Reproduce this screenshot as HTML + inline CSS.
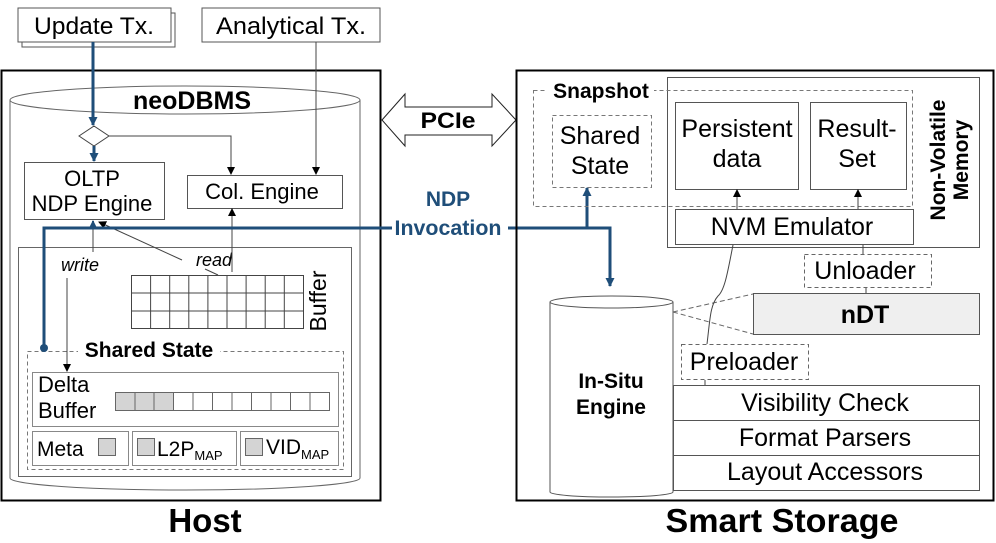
<!DOCTYPE html>
<html><head><meta charset="utf-8"><style>
html,body{margin:0;padding:0;background:#fff}
svg{display:block}
text{font-family:"Liberation Sans",Arial,sans-serif}
</style></head><body>
<svg width="996" height="543" viewBox="0 0 996 543" xmlns="http://www.w3.org/2000/svg">
<defs>
<marker id="a" markerWidth="8" markerHeight="8" refX="7" refY="4" orient="auto" markerUnits="userSpaceOnUse"><path d="M0,0 L8,4 L0,8 z" fill="#000"/></marker>
<marker id="b" markerWidth="9" markerHeight="9" refX="8" refY="4.5" orient="auto" markerUnits="userSpaceOnUse"><path d="M0,0 L9,4.5 L0,9 z" fill="#1f4e79"/></marker>
</defs>
<g fill="none" stroke="#555" stroke-width="1">
<rect x="22" y="13" width="153" height="34" fill="#fff"/>
<rect x="18" y="8" width="153" height="34" fill="#fff"/>
<rect x="202" y="8" width="178" height="34" fill="#fff"/>
</g>
<text x="94" y="34" font-size="24" text-anchor="middle" textLength="120" lengthAdjust="spacingAndGlyphs">Update Tx.</text>
<text x="291" y="34" font-size="24" text-anchor="middle" textLength="150" lengthAdjust="spacingAndGlyphs">Analytical Tx.</text>

<!-- Host -->
<rect x="1.5" y="70.5" width="379" height="430" fill="none" stroke="#000" stroke-width="2"/>
<path d="M10,100 L10,478 A175,12 0 0 0 360,478 L360,100" fill="none" stroke="#666"/>
<ellipse cx="185" cy="100" rx="175" ry="14" fill="#fff" stroke="#666"/>
<text x="192" y="109" font-size="25" font-weight="bold" text-anchor="middle">neoDBMS</text>

<path d="M94,126 L109,136 L94,146 L79,136 z" fill="#fff" stroke="#444"/>
<polyline points="109,136 231,136 231,174" fill="none" stroke="#444" marker-end="url(#a)"/>
<line x1="316" y1="42" x2="316" y2="174" stroke="#444" marker-end="url(#a)"/>
<rect x="24.5" y="162.5" width="140" height="57" fill="#fff" stroke="#555"/>
<text x="92" y="186" font-size="22" text-anchor="middle">OLTP</text>
<text x="92" y="211" font-size="22" text-anchor="middle">NDP Engine</text>
<rect x="187.5" y="175.5" width="155" height="33" fill="#fff" stroke="#555"/>
<text x="262" y="199" font-size="22" text-anchor="middle">Col. Engine</text>

<rect x="18.5" y="247.5" width="333" height="229" fill="none" stroke="#666"/>
<line x1="93" y1="222" x2="93" y2="252" stroke="#444"/>
<text x="80" y="271" font-size="18" font-style="italic" text-anchor="middle">write</text>
<line x1="67" y1="278" x2="67" y2="371" stroke="#444" marker-end="url(#a)"/>
<line x1="182" y1="260" x2="99" y2="222" stroke="#444" marker-end="url(#a)"/>
<line x1="205" y1="269" x2="218" y2="275" stroke="#444"/>
<text x="214" y="266" font-size="18" font-style="italic" text-anchor="middle">read</text>
<line x1="232" y1="272" x2="232" y2="209" stroke="#444" marker-end="url(#a)"/>
<g stroke="#444" fill="none">
<rect x="131.5" y="275.5" width="172" height="53"/>
<line x1="131" y1="293" x2="303" y2="293"/><line x1="131" y1="311" x2="303" y2="311"/>
<line x1="150.6" y1="275" x2="150.6" y2="328"/><line x1="169.7" y1="275" x2="169.7" y2="328"/>
<line x1="188.8" y1="275" x2="188.8" y2="328"/><line x1="207.9" y1="275" x2="207.9" y2="328"/>
<line x1="227" y1="275" x2="227" y2="328"/><line x1="246.1" y1="275" x2="246.1" y2="328"/>
<line x1="265.2" y1="275" x2="265.2" y2="328"/><line x1="284.3" y1="275" x2="284.3" y2="328"/>
</g>
<text transform="translate(326,301) rotate(-90)" font-size="23" text-anchor="middle">Buffer</text>

<rect x="27.5" y="351.5" width="316" height="118" fill="none" stroke="#777" stroke-dasharray="4,3"/>
<rect x="78" y="338" width="142" height="22" fill="#fff"/>
<text x="149" y="357" font-size="21" font-weight="bold" text-anchor="middle">Shared State</text>
<rect x="32.5" y="372.5" width="306" height="54" fill="none" stroke="#888"/>
<text x="38" y="392" font-size="22">Delta</text>
<text x="38" y="418" font-size="22">Buffer</text>
<g stroke="#666">
<rect x="115.5" y="392.5" width="58" height="18" fill="#d4d4d4"/>
<rect x="173.5" y="392.5" width="156" height="18" fill="#fff"/>
<line x1="135" y1="392" x2="135" y2="410"/><line x1="154" y1="392" x2="154" y2="410"/>
<line x1="193" y1="392" x2="193" y2="410"/><line x1="212.5" y1="392" x2="212.5" y2="410"/>
<line x1="232" y1="392" x2="232" y2="410"/><line x1="251.5" y1="392" x2="251.5" y2="410"/>
<line x1="271" y1="392" x2="271" y2="410"/><line x1="290.5" y1="392" x2="290.5" y2="410"/>
<line x1="310" y1="392" x2="310" y2="410"/>
</g>
<g stroke="#888" fill="none">
<rect x="32.5" y="431.5" width="96" height="34"/>
<rect x="132.5" y="431.5" width="104" height="34"/>
<rect x="240.5" y="431.5" width="98" height="34"/>
</g>
<g stroke="#666" fill="#d4d4d4">
<rect x="98.5" y="438.5" width="17" height="17"/>
<rect x="137.5" y="438.5" width="17" height="17"/>
<rect x="245.5" y="438.5" width="17" height="17"/>
</g>
<text x="37" y="456" font-size="21">Meta</text>
<text x="157" y="456" font-size="21">L2P<tspan font-size="13" dy="4">MAP</tspan></text>
<text x="266" y="454" font-size="21">VID<tspan font-size="13" dy="5">MAP</tspan></text>

<!-- blue lines -->
<g stroke="#1f4e79" stroke-width="3" fill="none">
<line x1="93" y1="42" x2="93" y2="125" marker-end="url(#b)"/>
<line x1="94" y1="146" x2="94" y2="161" marker-end="url(#b)"/>
<line x1="93" y1="228" x2="93" y2="221" marker-end="url(#b)" stroke-width="2"/>
<polyline points="44,348 44,228 392,228"/>
<polyline points="508,228 610,228 610,286" marker-end="url(#b)"/>
<line x1="587" y1="228" x2="587" y2="188" marker-end="url(#b)"/>
</g>
<circle cx="44" cy="348" r="4" fill="#1f4e79"/>
<text x="448" y="206" font-size="21" font-weight="bold" fill="#1f4e79" text-anchor="middle">NDP</text>
<text x="448" y="235" font-size="21" font-weight="bold" fill="#1f4e79" text-anchor="middle" textLength="107" lengthAdjust="spacingAndGlyphs">Invocation</text>

<!-- PCIe -->
<path d="M382,120 L405,94 L405,107 L492,107 L492,94 L516,120 L492,146 L492,135 L405,135 L405,146 z" fill="#fff" stroke="#222"/>
<text x="448" y="128" font-size="22" font-weight="bold" text-anchor="middle" textLength="55" lengthAdjust="spacingAndGlyphs">PCIe</text>

<!-- Smart storage -->
<rect x="516.5" y="70.5" width="477" height="430" fill="none" stroke="#000" stroke-width="2"/>
<rect x="667.5" y="77.5" width="312" height="170" fill="none" stroke="#555"/>
<rect x="533.5" y="90.5" width="379" height="116" fill="none" stroke="#777" stroke-dasharray="4,3"/>
<rect x="546" y="79" width="108" height="22" fill="#fff"/>
<text x="601" y="98" font-size="21" font-weight="bold" text-anchor="middle">Snapshot</text>
<rect x="552.5" y="115.5" width="99" height="72" fill="none" stroke="#777" stroke-dasharray="4,3"/>
<text x="600" y="144" font-size="25" text-anchor="middle">Shared</text>
<text x="600" y="174" font-size="25" text-anchor="middle">State</text>
<rect x="675.5" y="102.5" width="123" height="87" fill="#fff" stroke="#555"/>
<text x="737" y="137" font-size="25" text-anchor="middle">Persistent</text>
<text x="737" y="167" font-size="25" text-anchor="middle">data</text>
<rect x="810.5" y="102.5" width="96" height="87" fill="#fff" stroke="#555"/>
<text x="857" y="137" font-size="25" text-anchor="middle">Result-</text>
<text x="857" y="167" font-size="25" text-anchor="middle">Set</text>
<rect x="675.5" y="209.5" width="238" height="35" fill="#fff" stroke="#555"/>
<text x="792" y="235" font-size="25" text-anchor="middle">NVM Emulator</text>
<line x1="737" y1="209" x2="737" y2="190" stroke="#444" marker-end="url(#a)"/>
<line x1="858" y1="209" x2="858" y2="190" stroke="#444" marker-end="url(#a)"/>
<text transform="translate(945,160) rotate(-90)" font-size="21" font-weight="bold" text-anchor="middle">Non-Volatile</text>
<text transform="translate(968,160) rotate(-90)" font-size="21" font-weight="bold" text-anchor="middle">Memory</text>

<line x1="863" y1="245" x2="863" y2="254" stroke="#444"/>
<rect x="804.5" y="254.5" width="127" height="33" fill="#fff" stroke="#666" stroke-dasharray="4,3"/>
<text x="865" y="279" font-size="25" text-anchor="middle">Unloader</text>
<line x1="866" y1="288" x2="866" y2="293" stroke="#444"/>
<rect x="753.5" y="293.5" width="226" height="41" fill="#efefef" stroke="#555"/>
<text x="865" y="323" font-size="25" font-weight="bold" text-anchor="middle">nDT</text>

<path d="M550,302 L550,492 A61,5 0 0 0 673,492 L673,302" fill="#fff" stroke="#555"/>
<ellipse cx="611.5" cy="302" rx="61.5" ry="6" fill="#fff" stroke="#555"/>
<text x="611" y="388" font-size="21" font-weight="bold" text-anchor="middle">In-Situ</text>
<text x="611" y="414" font-size="21" font-weight="bold" text-anchor="middle">Engine</text>
<line x1="673" y1="312" x2="753" y2="294" stroke="#666" stroke-dasharray="5,3"/>
<line x1="673" y1="312" x2="753" y2="334" stroke="#666" stroke-dasharray="5,3"/>
<path d="M733,245 C728,270 725,290 718,296 C710,305 710,320 707,344" fill="none" stroke="#444"/>
<rect x="681.5" y="344.5" width="127" height="35" fill="#fff" stroke="#666" stroke-dasharray="4,3"/>
<text x="744" y="370" font-size="25" text-anchor="middle">Preloader</text>
<line x1="705" y1="380" x2="705" y2="385" stroke="#444"/>
<g fill="#fff" stroke="#555">
<rect x="673.5" y="385.5" width="306" height="35"/>
<rect x="673.5" y="420.5" width="306" height="35"/>
<rect x="673.5" y="455.5" width="306" height="35"/>
</g>
<text x="825" y="411" font-size="25" text-anchor="middle">Visibility Check</text>
<text x="825" y="446" font-size="25" text-anchor="middle">Format Parsers</text>
<text x="825" y="480" font-size="25" text-anchor="middle">Layout Accessors</text>

<text x="205" y="532" font-size="33" font-weight="bold" text-anchor="middle">Host</text>
<text x="782" y="532" font-size="33" font-weight="bold" text-anchor="middle" textLength="233" lengthAdjust="spacingAndGlyphs">Smart Storage</text>
</svg>
</body></html>
